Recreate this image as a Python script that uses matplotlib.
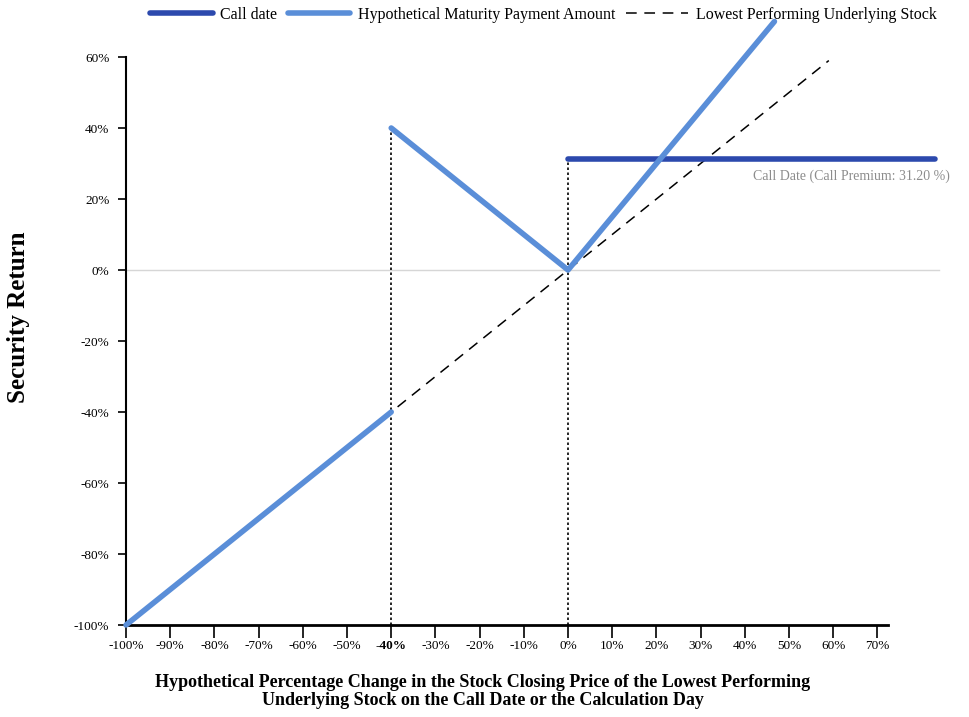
import matplotlib
matplotlib.use("Agg")
import matplotlib.pyplot as plt

plt.rcParams['font.family'] = ['Liberation Serif', 'DejaVu Serif']

# data (percent)
maturity_low_x = [-100, -40]
maturity_low_y = [-100, -40]
maturity_high_x = [-40, 0, 46.7]
maturity_high_y = [40, 0, 70]
stock_x = [-100, 59]
stock_y = [-100, 59]
call_x = [0, 83]
call_premium = 31.2
barrier = -40
x_ticks = [-100, -90, -80, -70, -60, -50, -40, -30, -20, -10, 0, 10, 20, 30, 40, 50, 60, 70]
y_ticks = [-100, -80, -60, -40, -20, 0, 20, 40, 60]

dark_blue = '#2c49ad'
light_blue = '#5a8ed8'

fig = plt.figure(figsize=(9.7, 7.17), dpi=100)
ax = fig.add_axes([0.1299, 0.1283, 0.7856, 0.7922])
ax.set_xlim(-100, 72.4)
ax.set_ylim(-100, 60)

ax.plot([-100, 84], [0, 0], color='#d6d6d6', lw=1, clip_on=False, zorder=1)
ax.plot([barrier, barrier], [-100, 40], color='black', lw=1.2, ls=(0, (1.5, 1.5)), zorder=2)
ax.plot([0, 0], [-100, call_premium], color='black', lw=1.2, ls=(0, (1.5, 1.5)), zorder=2)
ax.plot(stock_x, stock_y, color='black', lw=1.1, ls=(0, (7, 5)), clip_on=False, zorder=3,
        label='Lowest Performing Underlying Stock')
ax.plot(call_x, [call_premium, call_premium], color=dark_blue, lw=4, solid_capstyle='round',
        clip_on=False, zorder=4, label='Call date')
ax.plot(maturity_low_x, maturity_low_y, color=light_blue, lw=4, solid_capstyle='round',
        clip_on=False, zorder=5, label='Hypothetical Maturity Payment Amount')
ax.plot(maturity_high_x, maturity_high_y, color=light_blue, lw=4, solid_capstyle='round',
        clip_on=False, zorder=5)

ax.text(86.5, 26.5, 'Call Date (Call Premium: 31.20 %)', ha='right', va='center',
        fontsize=10, color='#8c8c8c')

ax.set_xticks(x_ticks)
ax.set_xticklabels([f'{t}%' for t in x_ticks], fontsize=9.5)
for lbl, t in zip(ax.get_xticklabels(), x_ticks):
    if t == barrier:
        lbl.set_fontweight('bold')
ax.set_yticks(y_ticks)
ax.set_yticklabels([f'{t}%' for t in y_ticks], fontsize=9.5)
ax.tick_params(axis='x', length=9, width=1.2, pad=1.5)
ax.tick_params(axis='y', length=6, width=1.2, pad=6)

for s in ['top', 'right']:
    ax.spines[s].set_visible(False)
ax.spines['left'].set_linewidth(1.5)
ax.spines['bottom'].set_linewidth(2)

fig.text(0.019, 0.558, 'Security Return', rotation=90, ha='center', va='center',
         fontsize=18, fontweight='bold')
fig.text(0.4974, 0.036, 'Hypothetical Percentage Change in the Stock Closing Price of the Lowest Performing\n'
         'Underlying Stock on the Call Date or the Calculation Day',
         ha='center', va='center', fontsize=13, fontweight='bold', linespacing=1.1)

handles, labels = ax.get_legend_handles_labels()
order = [1, 2, 0]
fig.legend([handles[i] for i in order], [labels[i] for i in order], loc='center',
           bbox_to_anchor=(0.5603, 0.979), ncol=3, frameon=False, fontsize=11.5,
           handlelength=3.9, handletextpad=0.45, columnspacing=0.7)

fig.savefig('out.png', dpi=100)
